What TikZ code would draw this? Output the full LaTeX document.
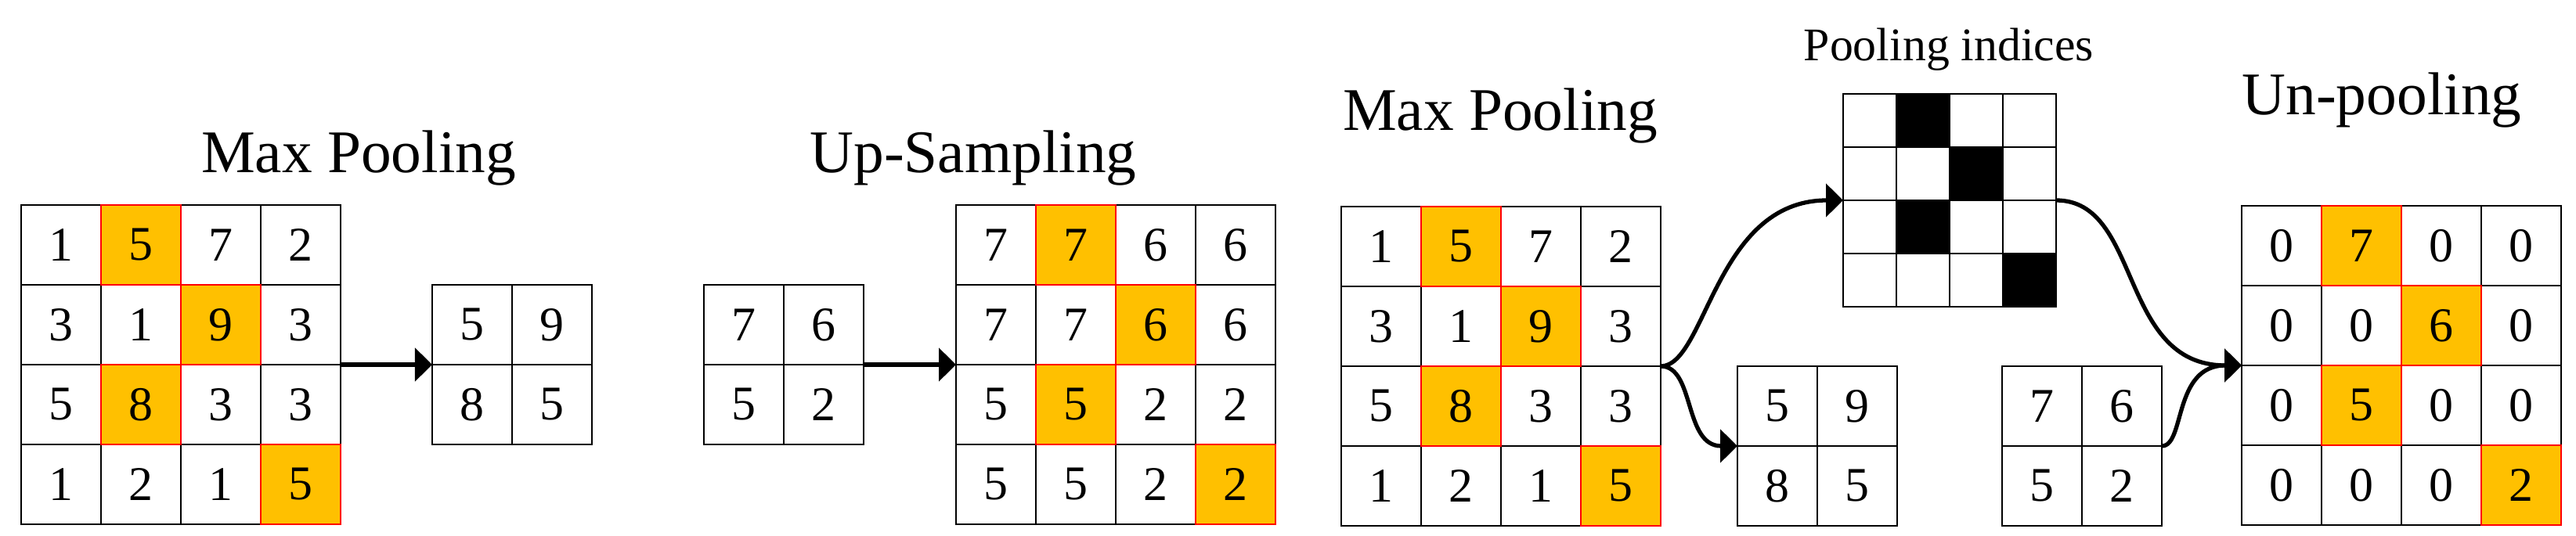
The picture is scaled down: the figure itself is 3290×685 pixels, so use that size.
\documentclass[tikz,border=0pt]{standalone}
\usepackage{fontspec}
\setmainfont{Liberation Serif}
\usetikzlibrary{arrows.meta,backgrounds}
\definecolor{gold}{HTML}{FFC000}
\definecolor{hlred}{HTML}{FF0000}
% name, x, y, cell size, rows
\newcommand\mkgrid[5]{%
  \foreach \rowvals [count=\r] in {#5} {%
    \foreach \v [count=\c] in \rowvals {%
      \node[cell, minimum size=#4*0.01cm] (#1-\r-\c) at ({#2+(\c-0.5)*#4},{#3+(\r-0.5)*#4}) {\v};
    }%
  }%
}
\begin{document}
\begin{tikzpicture}[x=0.01cm,y=-0.01cm,
  cell/.style={draw=black, line width=0.8pt, inner sep=0pt, outer sep=0pt,
    font=\fontsize{17.6}{20}\selectfont},
  title/.style={font=\fontsize{22}{26}\selectfont, anchor=base, inner sep=0pt},
  subtitle/.style={font=\fontsize{17}{20}\selectfont, anchor=base, inner sep=0pt},
  hl/.style={draw=hlred, line width=0.8pt},
  flow/.style={line width=1.5pt, -{Triangle[length=0.22cm,width=0.42cm]}}]
\useasboundingbox (0,0) rectangle (3290,685);

% titles
\node[title] (t1) at (458,221) {Max Pooling};
\node[title] (t2) at (1243,221) {Up-Sampling};
\node[title] (t3) at (1916,167) {Max Pooling};
\node[subtitle] (t4) at (2489,78) {Pooling indices};
\node[title] (t5) at (3042,147) {Un-pooling};

% grids
\mkgrid{g1}{27}{262}{102}{{1,5,7,2},{3,1,9,3},{5,8,3,3},{1,2,1,5}}
\mkgrid{s1}{552}{364}{102}{{5,9},{8,5}}
\mkgrid{s2}{899}{364}{102}{{7,6},{5,2}}
\mkgrid{g2}{1221}{262}{102}{{7,7,6,6},{7,7,6,6},{5,5,2,2},{5,5,2,2}}
\mkgrid{g3}{1713}{264}{102}{{1,5,7,2},{3,1,9,3},{5,8,3,3},{1,2,1,5}}
\mkgrid{s3}{2219}{468}{102}{{5,9},{8,5}}
\mkgrid{ix}{2354}{120}{68}{{{},{},{},{}},{{},{},{},{}},{{},{},{},{}},{{},{},{},{}}}
\mkgrid{s4}{2557}{468}{102}{{7,6},{5,2}}
\mkgrid{g4}{2863}{263}{102}{{0,7,0,0},{0,0,6,0},{0,5,0,0},{0,0,0,2}}

% highlighted cells
\begin{scope}[on background layer]
  \foreach \g in {g1,g2,g3,g4}
    \foreach \p in {1-2,2-3,3-2,4-4}
      \fill[gold] (\g-\p.south west) rectangle (\g-\p.north east);
  \foreach \p in {1-2,2-3,3-2,4-4}
    \fill[black] (ix-\p.south west) rectangle (ix-\p.north east);
\end{scope}
\foreach \g in {g1,g2,g3,g4}
  \foreach \p in {1-2,2-3,3-2,4-4}
    \draw[hl] (\g-\p.south west) rectangle (\g-\p.north east);

% connectors
\draw[flow] (g1-2-4.south east) -- (s1-1-1.south west);
\draw[flow] (s2-1-2.south east) -- (g2-2-1.south west);
\draw[flow] (g3-2-4.south east) .. controls +(58,0) and +(-164,0) .. (ix-2-1.south west);
\draw[flow] (g3-2-4.south east) .. controls +(44,0) and +(-69,0) .. (s3-1-1.south west);
\draw[flow] (ix-2-4.south east) .. controls +(110,0) and +(-158,0) .. (g4-2-1.south west);
\draw[flow] (s4-1-2.south east) .. controls +(30,0) and +(-88,0) .. (g4-2-1.south west);
\end{tikzpicture}
\end{document}
